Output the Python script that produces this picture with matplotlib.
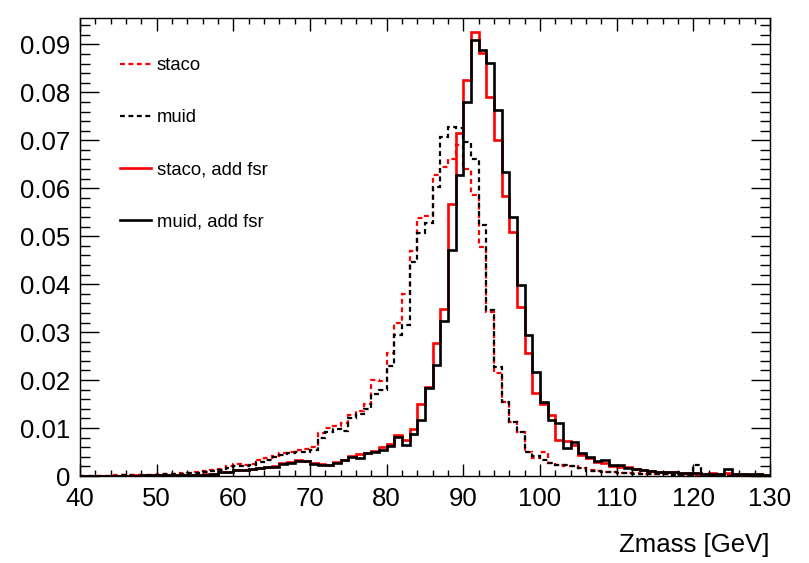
import numpy as np
import matplotlib
matplotlib.use("Agg")
import matplotlib.pyplot as plt
from matplotlib.ticker import MultipleLocator, FuncFormatter
from matplotlib.lines import Line2D

plt.rcParams['font.family'] = ['Liberation Sans', 'DejaVu Sans']

# bin edges (1 GeV bins from 40 to 130)
bin_edges = np.arange(40, 131, 1)

staco = [
    0.0001, 0.0001, 0.0001, 0.0001, 0.0002, 0.0002, 0.0002, 0.0003, 0.0003, 0.0003,
    0.0004, 0.0004, 0.0005, 0.0006, 0.0006, 0.0008, 0.0010, 0.0012, 0.0014, 0.0020,
    0.0024, 0.0022, 0.0025, 0.0033, 0.0038, 0.0042, 0.0047, 0.0050, 0.0055, 0.0057,
    0.0060, 0.0089, 0.0100, 0.0105, 0.0110, 0.0128, 0.0135, 0.0150, 0.0200, 0.0198,
    0.0256, 0.0320, 0.0380, 0.0470, 0.0537, 0.0543, 0.0627, 0.0645, 0.0660, 0.0690,
    0.0640, 0.0585, 0.0478, 0.0342, 0.0215, 0.0155, 0.0113, 0.0092, 0.0050, 0.0038,
    0.0050, 0.0028, 0.0023, 0.0021, 0.0020, 0.0017, 0.0012, 0.0010, 0.0009, 0.0008,
    0.0007, 0.0006, 0.0006, 0.0005, 0.0005, 0.0004, 0.0004, 0.0004, 0.0003, 0.0003,
    0.0003, 0.0003, 0.0002, 0.0003, 0.0002, 0.0002, 0.0002, 0.0002, 0.0002, 0.0001,
]

muid = [
    0.0001, 0.0001, 0.0001, 0.0001, 0.0001, 0.0002, 0.0002, 0.0002, 0.0003, 0.0003,
    0.0003, 0.0004, 0.0004, 0.0005, 0.0006, 0.0007, 0.0009, 0.0011, 0.0013, 0.0017,
    0.0020, 0.0020, 0.0022, 0.0030, 0.0034, 0.0040, 0.0044, 0.0047, 0.0050, 0.0050,
    0.0055, 0.0080, 0.0092, 0.0098, 0.0093, 0.0120, 0.0130, 0.0140, 0.0172, 0.0180,
    0.0230, 0.0294, 0.0315, 0.0446, 0.0506, 0.0527, 0.0603, 0.0707, 0.0728, 0.0725,
    0.0697, 0.0662, 0.0523, 0.0346, 0.0228, 0.0155, 0.0113, 0.0092, 0.0050, 0.0042,
    0.0033, 0.0028, 0.0023, 0.0022, 0.0020, 0.0017, 0.0011, 0.0010, 0.0009, 0.0008,
    0.0007, 0.0006, 0.0005, 0.0005, 0.0004, 0.0004, 0.0004, 0.0003, 0.0003, 0.0003,
    0.0022, 0.0003, 0.0002, 0.0002, 0.0002, 0.0002, 0.0002, 0.0001, 0.0002, 0.0001,
]

staco_fsr = [
    0.0001, 0.0001, 0.0001, 0.0001, 0.0001, 0.0001, 0.0001, 0.0002, 0.0002, 0.0002,
    0.0002, 0.0002, 0.0002, 0.0003, 0.0003, 0.0003, 0.0004, 0.0005, 0.0008, 0.0009,
    0.0012, 0.0013, 0.0015, 0.0017, 0.0019, 0.0021, 0.0027, 0.0030, 0.0033, 0.0031,
    0.0027, 0.0024, 0.0023, 0.0029, 0.0034, 0.0041, 0.0046, 0.0048, 0.0052, 0.0060,
    0.0066, 0.0085, 0.0075, 0.0097, 0.0151, 0.0186, 0.0278, 0.0348, 0.0567, 0.0715,
    0.0825, 0.0926, 0.0883, 0.0790, 0.0701, 0.0583, 0.0509, 0.0353, 0.0256, 0.0173,
    0.0150, 0.0127, 0.0075, 0.0074, 0.0065, 0.0044, 0.0038, 0.0030, 0.0028, 0.0021,
    0.0019, 0.0018, 0.0014, 0.0012, 0.0010, 0.0009, 0.0008, 0.0008, 0.0007, 0.0006,
    0.0006, 0.0005, 0.0006, 0.0005, 0.0006, 0.0004, 0.0004, 0.0003, 0.0005, 0.0003,
]

muid_fsr = [
    0.0001, 0.0001, 0.0001, 0.0001, 0.0001, 0.0001, 0.0001, 0.0001, 0.0002, 0.0002,
    0.0002, 0.0002, 0.0002, 0.0003, 0.0003, 0.0002, 0.0003, 0.0004, 0.0009, 0.0009,
    0.0012, 0.0012, 0.0014, 0.0017, 0.0019, 0.0019, 0.0026, 0.0028, 0.0031, 0.0031,
    0.0026, 0.0023, 0.0023, 0.0028, 0.0033, 0.0040, 0.0037, 0.0047, 0.0050, 0.0055,
    0.0063, 0.0082, 0.0065, 0.0087, 0.0117, 0.0184, 0.0231, 0.0324, 0.0471, 0.0627,
    0.0780, 0.0910, 0.0889, 0.0861, 0.0764, 0.0634, 0.0540, 0.0398, 0.0294, 0.0217,
    0.0155, 0.0117, 0.0110, 0.0058, 0.0071, 0.0049, 0.0040, 0.0032, 0.0033, 0.0023,
    0.0023, 0.0016, 0.0014, 0.0012, 0.0010, 0.0009, 0.0008, 0.0008, 0.0007, 0.0006,
    0.0006, 0.0005, 0.0005, 0.0005, 0.0014, 0.0005, 0.0004, 0.0004, 0.0005, 0.0003,
]

labels = ["staco", "muid", "staco, add fsr", "muid, add fsr"]

fig = plt.figure(figsize=(8.09, 5.63), dpi=100)
ax = fig.add_axes([80 / 809, 1 - 476 / 563, 690 / 809, 458 / 563])

lw = 1.6
dash = (0, (2.2, 1.6))
ax.stairs(staco, bin_edges, color="#ff0000", lw=lw, linestyle=dash, baseline=None)
ax.stairs(muid, bin_edges, color="black", lw=lw, linestyle=dash, baseline=None)
ax.stairs(staco_fsr, bin_edges, color="#ff0000", lw=lw + 0.3, baseline=None)
ax.stairs(muid_fsr, bin_edges, color="black", lw=lw + 0.3, baseline=None)

ax.set_xlim(40, 130)
ax.set_ylim(0, 0.0955)

ax.xaxis.set_major_locator(MultipleLocator(10))
ax.xaxis.set_minor_locator(MultipleLocator(2))
ax.yaxis.set_major_locator(MultipleLocator(0.01))
ax.yaxis.set_minor_locator(MultipleLocator(0.002))
ax.yaxis.set_major_formatter(FuncFormatter(lambda v, p: "0" if abs(v) < 1e-9 else f"{v:.2f}"))

ax.tick_params(axis="both", which="both", direction="in", top=True, right=True,
               labelsize=18.5, colors="black", width=1.0)
ax.tick_params(axis="x", which="major", length=9, pad=8)
ax.tick_params(axis="x", which="minor", length=4.5)
ax.tick_params(axis="y", which="major", length=14, pad=7)
ax.tick_params(axis="y", which="minor", length=7)
for s in ax.spines.values():
    s.set_linewidth(1.0)

ax.set_xlabel("Zmass [GeV]", fontsize=18.5, loc="right", labelpad=16)

proxies = [
    Line2D([], [], color="#ff0000", lw=lw, linestyle=dash),
    Line2D([], [], color="black", lw=lw, linestyle=dash),
    Line2D([], [], color="#ff0000", lw=lw + 0.3),
    Line2D([], [], color="black", lw=lw + 0.3),
]
leg = ax.legend(proxies, labels, loc="upper left", bbox_to_anchor=(0.058, 0.914),
                frameon=False, fontsize=13.3, handlelength=1.68, handletextpad=0.32,
                labelspacing=1.9, borderpad=0, borderaxespad=0)

fig.savefig("out.png", dpi=100)
